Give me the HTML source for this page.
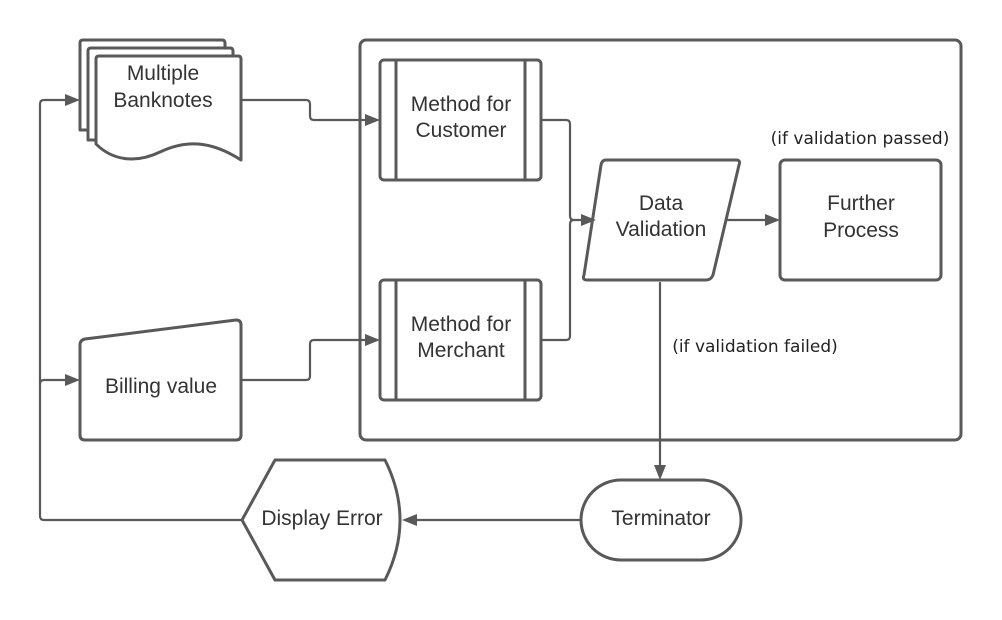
<!DOCTYPE html>
<html><head><meta charset="utf-8"><style>
html,body{margin:0;padding:0;background:#fff;}
svg{display:block;}
.s{fill:#fff;stroke:#595959;stroke-width:3;stroke-linejoin:round;}
.l{fill:none;stroke:#595959;stroke-width:2.2;stroke-linejoin:round;}
.t{font-family:"Liberation Sans",sans-serif;font-size:21px;fill:#333;text-anchor:middle;}
.c{font-family:"DejaVu Sans","Liberation Sans",sans-serif;font-size:17px;fill:#222;text-anchor:middle;}
.a{fill:#595959;}
</style></head><body>
<svg width="1002" height="620" viewBox="0 0 1002 620" xmlns="http://www.w3.org/2000/svg">
<rect class="s" x="360" y="40" width="601" height="400" rx="6"/>
<path class="s" d="M80,43 Q80,40 83,40 L222,40 Q225,40 225,43 L225,130 L80,130 Z"/>
<path class="s" d="M88,51 Q88,48 91,48 L230,48 Q233,48 233,51 L233,140 L88,140 Z"/>
<path class="s" d="M96,59 Q96,56 99,56 L238,56 Q241,56 241,59 L241,160 C210,140 185,140 160,152 C135,164 112,160 96,144 Z"/>
<text class="t" x="163" y="80">Multiple</text>
<text class="t" x="163" y="107">Banknotes</text>
<path class="s" d="M80,345 Q80,340 85,339 L236,320 Q241,320 241,325 L241,435 Q241,440 236,440 L85,440 Q80,440 80,435 Z"/>
<text class="t" x="161" y="393">Billing value</text>
<rect class="s" x="380" y="60" width="161" height="120" rx="4"/>
<line class="s" x1="396" y1="60" x2="396" y2="180"/><line class="s" x1="525" y1="60" x2="525" y2="180"/>
<text class="t" x="461" y="111">Method for</text><text class="t" x="461" y="137">Customer</text>
<rect class="s" x="380" y="280" width="161" height="120" rx="4"/>
<line class="s" x1="396" y1="280" x2="396" y2="400"/><line class="s" x1="525" y1="280" x2="525" y2="400"/>
<text class="t" x="461" y="331">Method for</text><text class="t" x="461" y="357">Merchant</text>
<path class="s" d="M606,160 L736,160 Q741,160 739,165 L713,275 Q711,280 706,280 L587,280 Q582,280 584,275 L601,165 Q602,160 606,160 Z"/>
<text class="t" x="661" y="210">Data</text><text class="t" x="661" y="236">Validation</text>
<rect class="s" x="780" y="160" width="161" height="120" rx="5"/>
<text class="t" x="861" y="210">Further</text><text class="t" x="861" y="237">Process</text>
<text class="c" x="860" y="144">(if validation passed)</text>
<text class="c" x="755" y="352">(if validation failed)</text>
<rect class="s" x="581" y="480" width="160" height="80" rx="40"/>
<text class="t" x="661" y="525">Terminator</text>
<path class="s" d="M275,460 L385,460 Q400,490 400,520 Q400,550 385,580 L275,580 L242,520 Z"/>
<text class="t" x="322" y="525">Display Error</text>
<path class="l" d="M241,100 L306,100 Q310,100 310,104 L310,116 Q310,120 314,120 L366,120"/>
<polygon class="a" points="380,120 365,114 365,126"/>
<path class="l" d="M241,380 L306,380 Q310,380 310,376 L310,344 Q310,340 314,340 L366,340"/>
<polygon class="a" points="380,340 365,334 365,346"/>
<path class="l" d="M541,120 L566,120 Q570,120 570,124 L570,216 Q570,220 574,220 L582,220"/>
<path class="l" d="M541,340 L566,340 Q570,340 570,336 L570,224 Q570,220 574,220"/>
<polygon class="a" points="596,220 581,214 581,226"/>
<path class="l" d="M727,220 L766,220"/>
<polygon class="a" points="780,220 765,214 765,226"/>
<path class="l" d="M660,282 L660,466"/>
<polygon class="a" points="660,480 654,465 666,465"/>
<path class="l" d="M581,520 L416,520"/>
<polygon class="a" points="402,520 417,514 417,526"/>
<path class="l" d="M242,520 L44,520 Q40,520 40,516 L40,104 Q40,100 44,100 L66,100"/>
<polygon class="a" points="80,100 65,94 65,106"/>
<path class="l" d="M40,384 Q40,380 44,380 L66,380"/>
<polygon class="a" points="80,380 65,374 65,386"/>
</svg>
</body></html>
